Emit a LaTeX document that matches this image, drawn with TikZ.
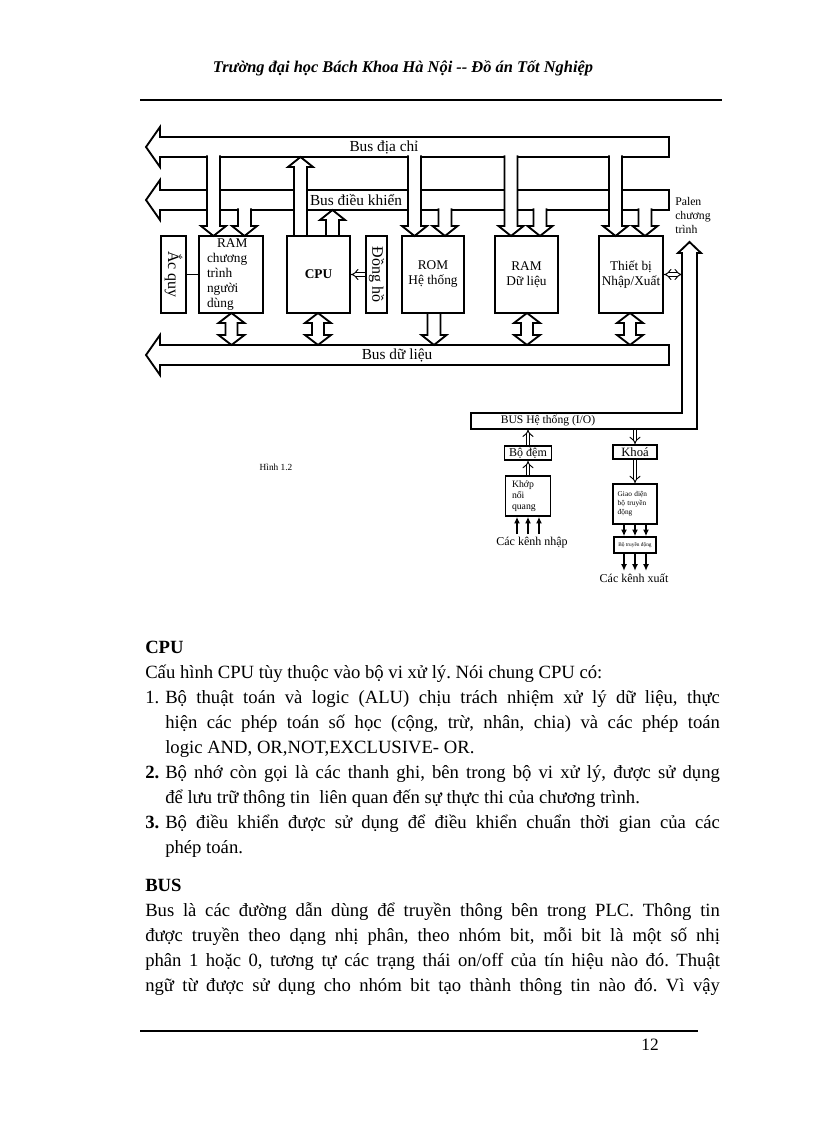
\documentclass[tikz,border=0pt]{standalone}
\usepackage{fontspec}
\setmainfont{Liberation Serif}
\newfontfamily\bodyfont{Liberation Serif}
\usepackage{tikz}
\usetikzlibrary{arrows.meta, positioning}

\tikzstyle{busline} = [line width=1.4pt, line join=miter]
\tikzstyle{bus} = [busline, draw=black, fill=white]
\tikzstyle{module} = [rectangle, draw=black, line width=1.4pt, minimum height=57.75pt, inner sep=0pt, align=center, font=\fontsize{10}{11.25}\selectfont]
\tikzstyle{iobox} = [rectangle, draw=black, line width=1.2pt, inner sep=0pt, align=left]
\tikzstyle{dblarrow} = [double, double distance=2.2pt, line width=0.7pt]
\tikzstyle{channel} = [line width=1.5pt, -{Latex[length=5pt,width=4.5pt]}]
\tikzstyle{buslabel} = [inner sep=0pt, font=\fontsize{11.5}{13}\selectfont]
\tikzstyle{para} = [anchor=base west, inner sep=0pt, text width=431pt, align=justify, font=\bodyfont\fontsize{14}{18.75}\selectfont\frenchspacing]

% fat bus arrows: x, start y, tip y
\newcommand{\fatdown}[3]{%
  \fill[white] (#1-6.5,#2) -- (#1-6.5,#3-10) -- (#1-12.5,#3-10) -- (#1,#3) -- (#1+12.5,#3-10) -- (#1+6.5,#3-10) -- (#1+6.5,#2) -- cycle;
  \draw[busline] (#1-6.5,#2) -- (#1-6.5,#3-10) -- (#1-12.5,#3-10) -- (#1,#3) -- (#1+12.5,#3-10) -- (#1+6.5,#3-10) -- (#1+6.5,#2);}
\newcommand{\fatup}[3]{%
  \fill[white] (#1-6.5,#2) -- (#1-6.5,#3+10) -- (#1-12.5,#3+10) -- (#1,#3) -- (#1+12.5,#3+10) -- (#1+6.5,#3+10) -- (#1+6.5,#2) -- cycle;
  \draw[busline] (#1-6.5,#2) -- (#1-6.5,#3+10) -- (#1-12.5,#3+10) -- (#1,#3) -- (#1+12.5,#3+10) -- (#1+6.5,#3+10) -- (#1+6.5,#2);}
\newcommand{\fatboth}[3]{%
  \draw[bus] (#1,#2) -- (#1+13,#2+10) -- (#1+6,#2+10) -- (#1+6,#3-10) -- (#1+13,#3-10) -- (#1,#3) -- (#1-13,#3-10) -- (#1-6,#3-10) -- (#1-6,#2+10) -- (#1-13,#2+10) -- cycle;}

\begin{document}
\begin{tikzpicture}[x=0.75pt, y=-0.75pt]
\useasboundingbox (0,0) rectangle (816,1123);

% Page header
\node (header) at (403,68) {\fontsize{12.3}{15}\selectfont\bfseries\itshape Trường đại học Bách Khoa Hà Nội -{}- Đồ án Tốt Nghiệp};
\draw[line width=1.5pt] (140,100) -- (722,100);

% Buses
\draw[bus] (669,137) -- (160,137) -- (160,127) -- (146,147) -- (160,167) -- (160,157) -- (669,157) -- cycle;
\draw[bus] (669,190) -- (160,190) -- (160,180) -- (146,200) -- (160,220) -- (160,210) -- (669,210) -- cycle;
\draw[bus] (669,345) -- (160,345) -- (160,335) -- (146,355) -- (160,375) -- (160,365) -- (669,365) -- cycle;
\draw[bus] (682,413) -- (682,253) -- (678,253) -- (689.5,242) -- (701,253) -- (697,253) -- (697,429) -- (471,429) -- (471,413) -- cycle;

% Address and control lines
\fatdown{213.5}{155.5}{236} \fatdown{244.5}{208.5}{236}
\fatup{300.5}{236}{157} \fatup{332.5}{236}{210}
\fatdown{414.5}{155.5}{236} \fatdown{445}{208.5}{236}
\fatdown{511}{155.5}{236} \fatdown{540}{208.5}{236}
\fatdown{615.5}{155.5}{236} \fatdown{645}{208.5}{236}

% Data lines
\fatboth{231.5}{313}{345} \fatboth{318}{313}{345} \fatdown{434}{313}{345}
\fatboth{527}{313}{345} \fatboth{630}{313}{345}

% Modules
\node (acquy) [module, rotate=-90, minimum width=57.75pt, minimum height=18.75pt, font=\fontsize{12}{14}\selectfont] at (173.5,274.5) {Ắc quy};
\node (ramuser) [module, minimum width=48pt, text width=36pt, align=left] at (231,274.5) {\hspace*{7.5pt}RAM\\chương\\trình\\người\\dùng};
\node (cpu) [module, minimum width=47.25pt, font=\bfseries\fontsize{10}{12}\selectfont] at (318.5,274.5) {CPU};
\node (clock) [module, rotate=-90, minimum width=57.75pt, minimum height=15.75pt, font=\fontsize{12}{14}\selectfont] at (376.5,274.5) {Đồng hồ};
\node (romsys) [module, minimum width=46.5pt] at (433,274.5) {ROM\\Hệ thống};
\node (ramdata) [module, minimum width=47.25pt] at (526.5,274.5) {RAM\\Dữ liệu};
\node (iodev) [module, minimum width=48pt] at (631,274.5) {Thiết bị\\Nhập/Xuất};

\draw[line width=1pt] (acquy) -- (ramuser);
\draw[dblarrow, -Implies] (clock) -- (cpu);
\coordinate (palenin) at (682,274.5);
\draw[dblarrow, Implies-Implies] (iodev) -- (palenin);

% Bus labels
\node (addrlbl) [buslabel] at (384,147) {Bus địa chỉ};
\node (ctrllbl) [buslabel] at (356,200) {Bus điều khiển};
\node (datalbl) [buslabel] at (397,355) {Bus dữ liệu};
\node (palen) [anchor=west, align=left, inner sep=0pt, font=\fontsize{8.8}{10.5}\selectfont] at (675,215.5) {Palen\\chương\\trình};

% I/O section
\node (iobuslbl) [inner sep=0pt, font=\fontsize{8.7}{10}\selectfont] at (548,421) {BUS Hệ thống (I/O)};
\node (bodem) [iobox, minimum width=35.25pt, minimum height=10.5pt, font=\fontsize{9}{10}\selectfont] at (528,453) {Bộ đệm};
\node (khoa) [iobox, minimum width=33pt, minimum height=10.5pt, font=\fontsize{9.5}{10}\selectfont] at (635,452) {Khoá};
\node (khop) [iobox, minimum width=33.75pt, minimum height=30pt, text width=24pt, font=\fontsize{7.3}{8.25}\selectfont] at (528,496) {Khớp\\nối\\quang};
\node (giaodien) [iobox, minimum width=33pt, minimum height=30pt, text width=26pt, font=\fontsize{5.5}{6.75}\selectfont] at (635,504) {Giao diện\\bộ truyền\\động};
\node (truyen) [iobox, minimum width=31.5pt, minimum height=12pt, font=\fontsize{4}{5}\selectfont] at (635,545) {Bộ truyền động};

\coordinate (busin) at (528,429.5);
\coordinate (busout) at (635,429.5);
\draw[dblarrow, -Implies] (bodem) -- (busin);
\draw[dblarrow, -Implies] (khop) -- (bodem);
\draw[dblarrow, -Implies] (busout) -- (khoa);
\draw[dblarrow, -Implies] (khoa) -- (giaodien);

\foreach \dx in {-11,0,11} {
  \draw[channel] ([xshift=\dx*0.75pt, yshift=-13pt]khop.south) -- ([xshift=\dx*0.75pt]khop.south);
  \draw[channel] ([xshift=\dx*0.75pt]giaodien.south) -- ([xshift=\dx*0.75pt]truyen.north);
  \draw[channel] ([xshift=\dx*0.75pt]truyen.south) -- ++(0,17);
}

\node (inlbl) [inner sep=0pt, font=\fontsize{9}{10}\selectfont] at (532,543) {Các kênh nhập};
\node (outlbl) [inner sep=0pt, font=\fontsize{9}{10}\selectfont] at (634,578) {Các kênh xuất};
\node (figlbl) [inner sep=0pt, font=\fontsize{7}{8}\selectfont] at (276,467) {Hình 1.2};

% Text
\node (cpupara) [para] at (145,653) {{\bfseries CPU}\par
Cấu hình CPU tùy thuộc vào bộ vi xử lý. Nói chung CPU có:\par
\hangindent=15pt\hangafter=1\noindent\makebox[15pt][l]{1.}Bộ thuật toán và logic (ALU) chịu trách nhiệm xử lý dữ liệu, thực\linebreak hiện các phép toán số học (cộng, trừ, nhân, chia) và các phép toán\linebreak logic AND, OR,NOT,EXCLUSIVE- OR.\par
\hangindent=15pt\hangafter=1\noindent\makebox[15pt][l]{\bfseries 2.}Bộ nhớ còn gọi là các thanh ghi, bên trong bộ vi xử lý, được sử dụng\linebreak để lưu trữ thông tin~ liên quan đến sự thực thi của chương trình.\par
\hangindent=15pt\hangafter=1\noindent\makebox[15pt][l]{\bfseries 3.}Bộ điều khiển được sử dụng để điều khiển chuẩn thời gian của các\linebreak phép toán.\par};
\node (buspara) [para] at (145,891) {{\bfseries BUS}\par
{\parfillskip=0pt Bus là các đường dẫn dùng để truyền thông bên trong PLC. Thông tin\linebreak được truyền theo dạng nhị phân, theo nhóm bit, mỗi bit là một số nhị\linebreak phân 1 hoặc 0, tương tự các trạng thái on/off của tín hiệu nào đó. Thuật\linebreak ngữ từ được sử dụng cho nhóm bit tạo thành thông tin nào đó. Vì vậy\par}};

% Footer
\draw[line width=1.2pt] (140,1031) -- (698,1031);
\node (pageno) [font=\fontsize{13}{15}\selectfont] at (650,1045) {12};
\end{tikzpicture}
\end{document}
